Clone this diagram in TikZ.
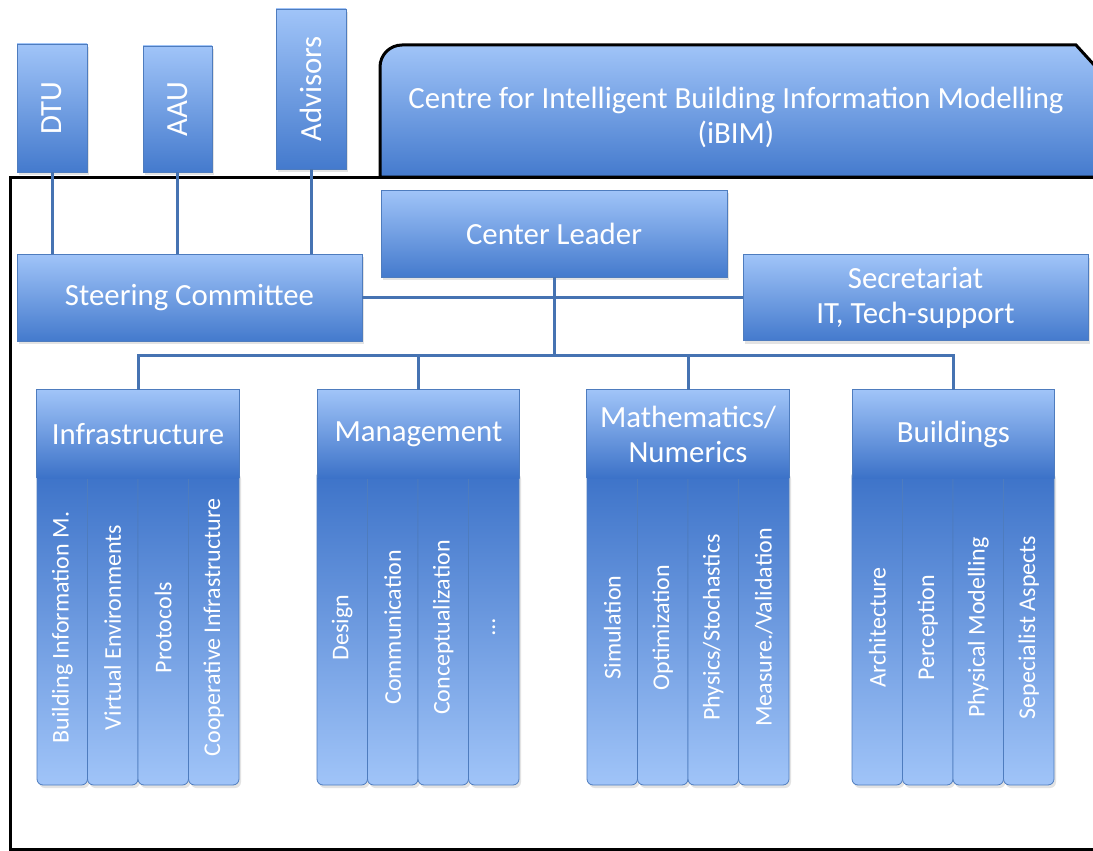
\documentclass[tikz,border=0pt]{standalone}
\usepackage{fontspec}
\setmainfont{Carlito}
\usetikzlibrary{shadows}

\definecolor{boxlight}{RGB}{160,196,248}
\definecolor{boxdark}{RGB}{68,122,205}
\definecolor{pillardark}{RGB}{60,114,200}
\definecolor{boxedge}{RGB}{78,124,190}
\definecolor{wirecol}{RGB}{70,115,178}

\tikzset{
  bigtext/.style={font=\fontsize{30.8}{35}\selectfont},
  smalltext/.style={font=\fontsize{24}{28}\selectfont},
  softshadow/.style={drop shadow={opacity=0.22, shadow xshift=2pt, shadow yshift=-3pt}},
  bluebox/.style={rectangle, draw=boxedge, line width=0.8pt,
    top color=boxlight, bottom color=boxdark, text=white,
    inner sep=0pt, align=center, bigtext, softshadow},
  header/.style={rectangle, top color=boxlight, bottom color=pillardark,
    minimum width=202pt, minimum height=88pt, inner sep=0pt,
    text=white, align=center, bigtext},
  pillar/.style={rectangle, rounded corners=6pt, draw=boxedge, line width=0.8pt,
    top color=pillardark, bottom color=boxlight,
    minimum width=50.5pt, minimum height=315pt, inner sep=0pt,
    text=white, smalltext, softshadow},
  wire/.style={draw=wirecol, line width=3pt},
  edgeline/.style={draw=boxedge, line width=0.8pt},
}

\begin{document}
\begin{tikzpicture}[x=1pt, y=1pt]
\clip (0,0) rectangle (1093,-851);
\fill[white] (0,0) rectangle (1093,-851);

% outer frame of the centre
\draw[black, line width=3pt] (1110,-177) -- (10,-177) -- (10,-849) -- (1110,-849);

% title tab
\draw[black, line width=3pt, top color=boxlight, bottom color=boxdark]
  (380,-177) -- (380,-67) arc (180:90:22pt) -- (1076,-45) -- (1106,-78) -- (1106,-177) -- cycle;
\node[bigtext, text=white, align=center] (title) at (736,-117)
  {Centre for Intelligent Building Information Modelling\\(iBIM)};

% partner boxes
\node[bluebox, minimum width=70pt, minimum height=128pt] (dtu) at (52,-108) {\rotatebox{90}{DTU}};
\node[bluebox, minimum width=69pt, minimum height=126pt] (aau) at (177.5,-109) {\rotatebox{90}{AAU}};
\node[bluebox, minimum width=70pt, minimum height=160pt] (adv) at (311,-89) {\rotatebox{90}{Advisors}};

% management level
\node[bluebox, minimum width=345pt, minimum height=87pt] (steer) at (189.5,-297.5) {Steering Committee};
\node[bluebox, minimum width=346pt, minimum height=87pt] (leader) at (554,-233.5) {Center Leader};
\node[bluebox, minimum width=345pt, minimum height=86pt] (sec) at (915.5,-297.5) {Secretariat\\IT, Tech-support};

% connectors
\coordinate (busy) at (0,-355);
\coordinate (hub) at (leader.south |- busy);
\draw[wire] (dtu.south) -- (dtu.south |- steer.north);
\draw[wire] (aau.south) -- (aau.south |- steer.north);
\draw[wire] (adv.south) -- (adv.south |- steer.north);
\draw[wire] (steer.east) -- (sec.west);
\draw[wire] (leader.south) -- (hub);

% research areas: pillars first, header on top
\foreach \i/\t in {1/{Building Information M.}, 2/{Virtual Environments}, 3/{Protocols}, 4/{Cooperative Infrastructure}}
  \node[pillar] (infra\i) at ({37+25.25+(\i-1)*50.5}, -627.5) {\rotatebox{90}{\t}};
\foreach \i/\t in {1/{Design}, 2/{Communication}, 3/{Conceptualization}, 4/{…}}
  \node[pillar] (mgmt\i) at ({317+25.25+(\i-1)*50.5}, -627.5) {\rotatebox{90}{\t}};
\foreach \i/\t in {1/{Simulation}, 2/{Optimization}, 3/{Physics/Stochastics}, 4/{Measure./Validation}}
  \node[pillar] (math\i) at ({587+25.25+(\i-1)*50.5}, -627.5) {\rotatebox{90}{\t}};
\foreach \i/\t in {1/{Architecture}, 2/{Perception}, 3/{Physical Modelling}, 4/{Sepecialist Aspects}}
  \node[pillar] (bldg\i) at ({852+25.25+(\i-1)*50.5}, -627.5) {\rotatebox{90}{\t}};

\node[header] (infra) at (138,-434) {Infrastructure};
\node[header] (mgmt) at (418.5,-434) {Management};
\node[header] (math) at (688,-434) {Mathematics/\\Numerics};
\node[header] (bldg) at (953.5,-434) {Buildings};

\foreach \g in {infra,mgmt,math,bldg} {
  \draw[edgeline] (\g.south west) -- (\g.north west) -- (\g.north east) -- (\g.south east);
  \draw[wire] (hub) -| (\g.north);
}
\end{tikzpicture}
\end{document}
